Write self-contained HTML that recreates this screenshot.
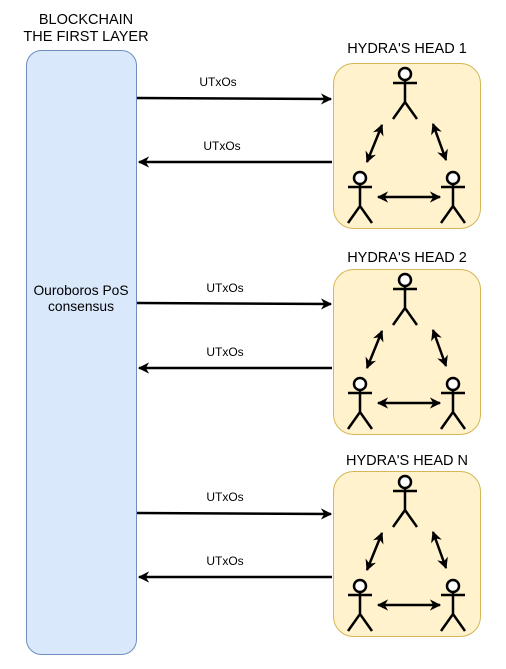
<!DOCTYPE html>
<html><head><style>body{margin:0;background:#fff}svg{display:block}text{font-family:"Liberation Sans",Arial,sans-serif;font-size:12px}.t{font-size:14.5px}</style></head>
<body>
<svg width="506" height="669" viewBox="0 0 506 669" xmlns="http://www.w3.org/2000/svg">
<defs>
<marker id="a" viewBox="0 0 10 10" refX="9" refY="5" markerWidth="4.5" markerHeight="4.5" orient="auto-start-reverse"><path d="M0,0 L10,5 L0,10 L3,5 Z" fill="#000"/></marker>
<g id="head">
<rect x="333.5" y="63.5" width="147" height="165" rx="20" fill="#fff2cc" stroke="#d6b656"/>
<g stroke="#000" stroke-width="2.5" fill="none">
<g transform="translate(405,74)"><circle r="6" fill="#fff"/><path d="M-12,9 H12 M0,6 V28 M-12,45 L0,28 L12,45"/></g>
<g transform="translate(360,178)"><circle r="6" fill="#fff"/><path d="M-12,9 H12 M0,6 V28 M-12,45 L0,28 L12,45"/></g>
<g transform="translate(453,178)"><circle r="6" fill="#fff"/><path d="M-12,9 H12 M0,6 V28 M-12,45 L0,28 L12,45"/></g>
<line x1="382" y1="125" x2="367" y2="162" marker-start="url(#a)" marker-end="url(#a)"/>
<line x1="433" y1="124" x2="446" y2="160" marker-start="url(#a)" marker-end="url(#a)"/>
<line x1="378" y1="197" x2="440" y2="197" marker-start="url(#a)" marker-end="url(#a)"/>
</g>
</g>
</defs>
<text class="t" x="86" y="24" text-anchor="middle">BLOCKCHAIN</text>
<text class="t" x="86" y="41" text-anchor="middle">THE FIRST LAYER</text>
<rect x="26.5" y="50.5" width="110" height="604" rx="15" fill="#dae8fc" stroke="#6c8ebf"/>
<text x="81" y="295" text-anchor="middle" style="font-size:13.8px">Ouroboros PoS</text>
<text x="81" y="311" text-anchor="middle" style="font-size:13.8px">consensus</text>

<text class="t" x="407" y="53" text-anchor="middle">HYDRA'S HEAD 1</text>
<text class="t" x="407" y="262" text-anchor="middle">HYDRA'S HEAD 2</text>
<text class="t" x="407" y="465" text-anchor="middle">HYDRA'S HEAD N</text>

<use href="#head"/>
<use href="#head" transform="translate(0,206)"/>
<use href="#head" transform="translate(0,408)"/>

<g stroke="#000" stroke-width="2.5" fill="none">
<line x1="137" y1="98" x2="331" y2="99" marker-end="url(#a)"/>
<line x1="332" y1="162" x2="139" y2="162" marker-end="url(#a)"/>
<line x1="137" y1="303" x2="331" y2="304" marker-end="url(#a)"/>
<line x1="332" y1="368" x2="139" y2="368" marker-end="url(#a)"/>
<line x1="137" y1="513" x2="331" y2="514" marker-end="url(#a)"/>
<line x1="332" y1="577" x2="139" y2="577" marker-end="url(#a)"/>
</g>
<text x="218" y="86" text-anchor="middle">UTxOs</text>
<text x="222" y="150" text-anchor="middle">UTxOs</text>
<text x="225" y="292" text-anchor="middle">UTxOs</text>
<text x="225" y="356" text-anchor="middle">UTxOs</text>
<text x="225" y="501" text-anchor="middle">UTxOs</text>
<text x="225" y="565" text-anchor="middle">UTxOs</text>
</svg>
</body></html>
